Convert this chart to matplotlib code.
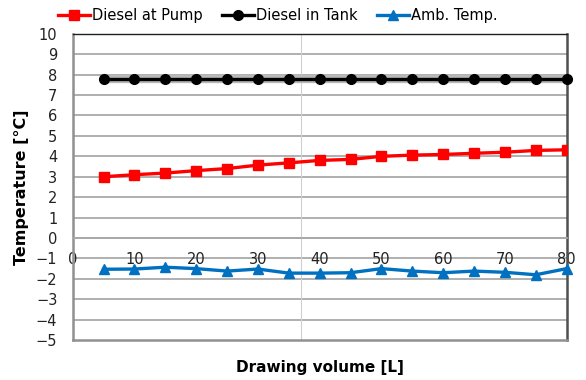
import matplotlib
matplotlib.use("Agg")
from matplotlib import pyplot as plt

# drawing volume [L]
volume = [5, 10, 15, 20, 25, 30, 35, 40, 45, 50, 55, 60, 65, 70, 75, 80]

# temperatures
diesel_pump = [3.0, 3.1, 3.18, 3.3, 3.4, 3.57, 3.68, 3.8, 3.85, 4.0, 4.06, 4.09, 4.15, 4.2, 4.29, 4.32]
diesel_tank = [7.8] * 16
amb_temp = [-1.53, -1.52, -1.43, -1.5, -1.62, -1.52, -1.72, -1.72, -1.7, -1.5, -1.62, -1.7, -1.62, -1.68, -1.8, -1.5]

x_ticks = list(range(0, 81, 10))
y_ticks = list(range(-5, 11))

grid_col = '#a9a9a9'

fig = plt.figure(figsize=(5.86, 3.8), dpi=100)
ax = fig.add_axes([0.124, 0.105, 0.843, 0.806])

ax.set_xlim(0, 80)
ax.set_ylim(-5, 10)
ax.set_xticks(x_ticks)
ax.set_yticks(y_ticks)

for y in y_ticks[1:-1]:
    ax.axhline(y, color=grid_col, lw=1.3, zorder=1)
# faint vertical line seen in the original
ax.axvline(37, color='#d0d0d0', lw=0.8, zorder=1)

ax.plot(volume, diesel_pump, color='#ff0000', lw=2.4, marker='s', ms=7,
        label='Diesel at Pump', zorder=4)
ax.plot(volume, diesel_tank, color='#b8b8b8', lw=6, zorder=2, solid_capstyle='butt')
ax.plot(volume, diesel_tank, color='black', lw=2.4, marker='o', ms=7,
        label='Diesel in Tank', zorder=4, clip_on=False)
ax.plot(volume, amb_temp, color='#0070c0', lw=2.4, marker='^', ms=7.5,
        label='Amb. Temp.', zorder=4, clip_on=False)

# x axis crosses at 0
ax.spines['bottom'].set_position(('data', 0))
ax.spines['bottom'].set_color(grid_col)
ax.spines['bottom'].set_linewidth(1.3)
ax.axhline(-5, color='#909090', lw=1.8, clip_on=False, zorder=3)
ax.spines['left'].set_color('#909090')
ax.spines['left'].set_linewidth(1.8)
ax.spines['right'].set_color('#505050')
ax.spines['right'].set_linewidth(1.8)
ax.spines['top'].set_color('#202020')
ax.spines['top'].set_linewidth(1.0)

ax.tick_params(axis='x', length=0, pad=10, labelsize=10.5, labelcolor='#222222')
ax.tick_params(axis='y', length=0, pad=11, labelsize=10.5, labelcolor='#222222')

ax.set_ylabel('Temperature [°C]', fontsize=11.5, fontweight='bold', labelpad=5)
ax.set_xlabel('Drawing volume [L]', fontsize=11, fontweight='bold')
ax.xaxis.set_label_coords(0.5, -0.065)

fig.legend(loc='center', bbox_to_anchor=(0.474, 0.958), ncol=3, frameon=False,
           fontsize=10.5, handlelength=2.2, handletextpad=0.15, columnspacing=1.3)

fig.savefig('out.png', dpi=100)
